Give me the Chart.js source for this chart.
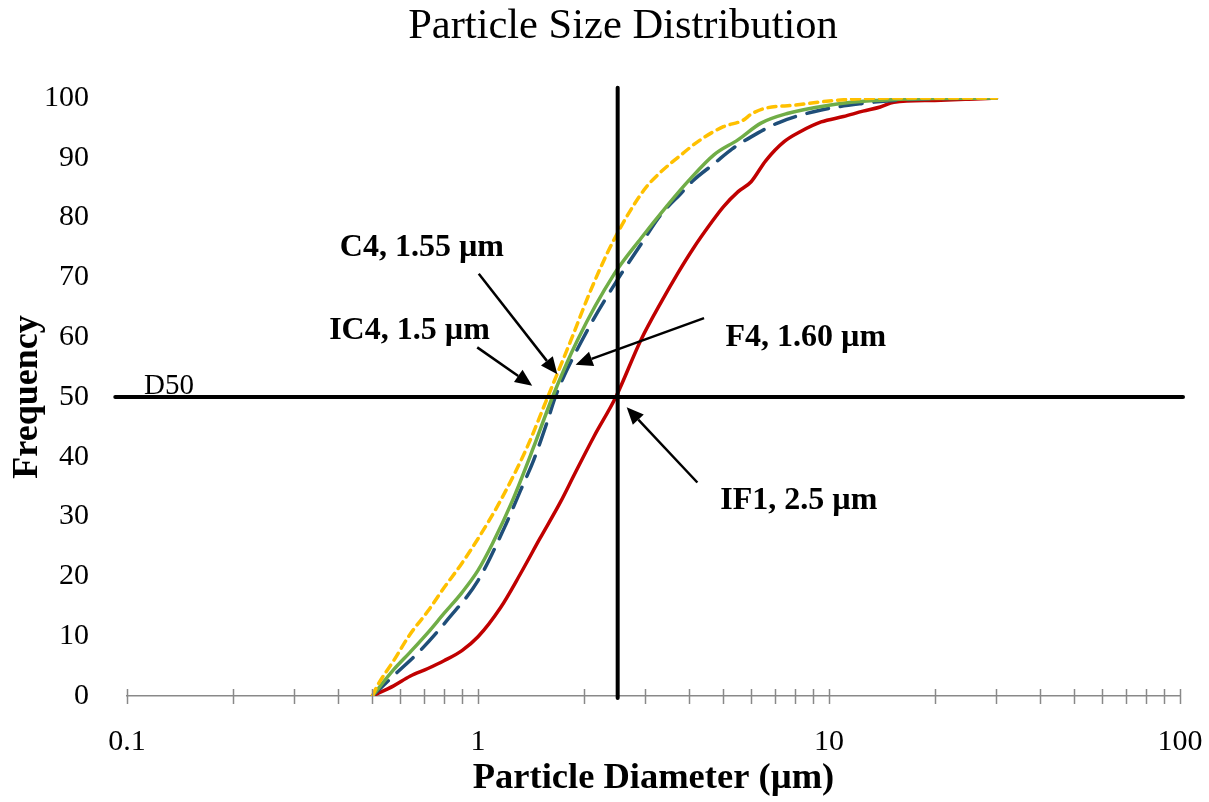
<!DOCTYPE html>
<html>
<head>
<meta charset="utf-8">
<script src="https://cdn.jsdelivr.net/npm/chart.js@4/dist/chart.umd.min.js"></script>
<style>
  html, body { margin: 0; padding: 0; background: #fff; }
  #psd { display: block; }
</style>
</head>
<body>
<canvas id="psd" width="1209" height="802"></canvas>
<script>
// values (particle diameter in µm, cumulative %)
const yellowX = [0.5, 0.52, 0.575, 0.64, 0.72, 0.8, 0.89, 1.0, 1.16, 1.38, 1.58, 1.84, 2.1, 2.44, 2.97, 3.3, 3.7, 4.3, 5.0, 5.7, 6.0, 6.6, 8.0, 10, 12.5, 16, 20, 30];
const yellowY = [0, 2, 5.9, 10.3, 14.2, 18.1, 21.8, 26.3, 32.7, 41.6, 50, 59.5, 68, 76.3, 84.6, 87.5, 90, 93, 95.2, 96.3, 97.3, 98.3, 98.8, 99.5, 99.9, 100, 100, 100];

const greenX = [0.5, 0.575, 0.64, 0.72, 0.8, 0.9, 1.0, 1.1, 1.25, 1.44, 1.63, 1.92, 2.44, 2.91, 3.46, 4.0, 4.7, 5.5, 6.4, 7.6, 10, 12.3, 15, 20, 30];
const greenY = [0, 4.4, 7.3, 10.6, 13.8, 17.3, 21, 25.5, 32.5, 41.6, 50, 59.5, 70.5, 76.5, 82, 86.3, 90.5, 93, 95.8, 97.4, 98.8, 99.4, 99.7, 99.9, 100];

const blueX = [0.5, 0.575, 0.69, 0.82, 1.0, 1.19, 1.32, 1.44, 1.58, 1.66, 2.0, 2.49, 2.91, 3.3, 3.78, 4.12, 4.7, 5.3, 6.0, 7.2, 9.5, 12.5, 15.3, 20, 30];
const blueY = [0, 3.4, 7.8, 12.8, 19.3, 28.2, 34.3, 39.4, 46.1, 50, 60, 69.5, 75.5, 80.3, 84, 86.3, 89, 91.5, 93.5, 95.9, 98, 99.1, 99.6, 99.9, 100];

const redX = [0.5, 0.575, 0.64, 0.72, 0.8, 0.9, 1.0, 1.16, 1.32, 1.5, 1.72, 1.88, 2.14, 2.47, 2.91, 3.35, 3.7, 4.1, 4.6, 5.0, 5.5, 6.0, 6.6, 7.45, 8.3, 9.5, 11.0, 12.5, 14, 15.3, 20, 25, 30];
const redY = [0, 1.7, 3.3, 4.6, 5.9, 7.6, 9.9, 14.8, 20.4, 26.3, 32.5, 37.0, 43.4, 50, 59.5, 66.2, 70.6, 74.8, 79, 81.8, 84.3, 86, 89.5, 92.7, 94.4, 96, 96.9, 97.8, 98.5, 99.3, 99.6, 99.8, 100];

// D50 cross lines
const d50LineX = [0.0926, 102];
const d50LineY = [50, 50];
const ifLineX = [2.5, 2.5];
const ifLineY = [-0.35, 101.7];

// axis ticks
const xDecades = [0.1, 1, 10, 100];
const xMinorSteps = [2, 3, 4, 5, 6, 7, 8, 9];

// annotations: label, text centre, arrow start, arrow tip (data coords)
const noteLabels = ['C4, 1.55 µm', 'IC4, 1.5 µm', 'F4, 1.60 µm', 'IF1, 2.5 µm'];
const noteTextX = [0.692, 0.638, 8.59, 8.2];
const noteTextY = [75.0, 61.1, 59.9, 32.7];
const arrowFromX = [1.005, 0.995, 4.405, 4.217];
const arrowFromY = [70.6, 58.3, 63.2, 35.7];
const arrowToX = [1.683, 1.427, 1.897, 2.652];
const arrowToY = [53.8, 51.9, 55.4, 48.3];

const chartTitle = 'Particle Size Distribution';
const serif = "'Liberation Serif', 'Times New Roman', serif";

const pts = (xs, ys) => xs.map((x, i) => ({ x: x, y: ys[i] }));

const xTickValues = [];
xDecades.forEach((d, i) => {
  xTickValues.push(d);
  if (i < xDecades.length - 1) xMinorSteps.forEach(m => xTickValues.push(+(d * m).toPrecision(3)));
});

// title, crossing tick marks on the x axis, arrows and text notes
const extrasPlugin = {
  id: 'extras',
  afterDatasetsDraw(chart) {
    const ctx = chart.ctx;
    const xs = chart.scales.x;
    const ys = chart.scales.y;

    ctx.save();
    ctx.fillStyle = '#000';
    ctx.font = '42.5px ' + serif;
    ctx.textAlign = 'center';
    ctx.textBaseline = 'middle';
    ctx.fillText(chartTitle, 623, 27);
    ctx.restore();

    ctx.save();
    ctx.strokeStyle = '#898989';
    ctx.lineWidth = 1.5;
    const axisY = ys.getPixelForValue(0);
    xs.ticks.forEach(t => {
      const px = Math.round(xs.getPixelForValue(t.value)) + 0.5;
      ctx.beginPath();
      ctx.moveTo(px, axisY - 7);
      ctx.lineTo(px, axisY + 8);
      ctx.stroke();
    });
    ctx.restore();

    ctx.save();
    ctx.strokeStyle = '#000';
    ctx.fillStyle = '#000';
    ctx.lineWidth = 2.5;
    noteLabels.forEach((lbl, i) => {
      const x0 = xs.getPixelForValue(arrowFromX[i]);
      const y0 = ys.getPixelForValue(arrowFromY[i]);
      const x1 = xs.getPixelForValue(arrowToX[i]);
      const y1 = ys.getPixelForValue(arrowToY[i]);
      const ang = Math.atan2(y1 - y0, x1 - x0);
      const len = 17, half = 7.5;
      const bx = x1 - len * Math.cos(ang);
      const by = y1 - len * Math.sin(ang);
      ctx.beginPath();
      ctx.moveTo(x0, y0);
      ctx.lineTo(bx, by);
      ctx.stroke();
      ctx.beginPath();
      ctx.moveTo(x1, y1);
      ctx.lineTo(bx + half * Math.sin(ang), by - half * Math.cos(ang));
      ctx.lineTo(bx - half * Math.sin(ang), by + half * Math.cos(ang));
      ctx.closePath();
      ctx.fill();

      ctx.font = 'bold 32px ' + serif;
      ctx.textAlign = 'center';
      ctx.textBaseline = 'middle';
      ctx.fillText(lbl, xs.getPixelForValue(noteTextX[i]), ys.getPixelForValue(noteTextY[i]));
    });

    ctx.font = '29px ' + serif;
    ctx.textAlign = 'left';
    ctx.textBaseline = 'alphabetic';
    ctx.fillText('D50', xs.getPixelForValue(0.1) + 17, ys.getPixelForValue(50) - 3);
    ctx.restore();
  }
};

const lineStyle = (color, width, dash) => ({
  borderColor: color,
  borderWidth: width,
  borderDash: dash,
  borderCapStyle: 'round',
  pointRadius: 0,
  fill: false,
  cubicInterpolationMode: 'monotone'
});

new Chart(document.getElementById('psd'), {
  type: 'line',
  data: {
    datasets: [
      Object.assign({ label: 'D50', data: pts(d50LineX, d50LineY), clip: false }, lineStyle('#000', 4, [])),
      Object.assign({ label: 'IF1 D50', data: pts(ifLineX, ifLineY), clip: false }, lineStyle('#000', 4, [])),
      Object.assign({ label: 'C4', data: pts(yellowX, yellowY) }, lineStyle('#FFC000', 3.5, [8, 6])),
      Object.assign({ label: 'IC4', data: pts(greenX, greenY) }, lineStyle('#70AD47', 3.5, [])),
      Object.assign({ label: 'F4', data: pts(blueX, blueY) }, lineStyle('#1F4E79', 3.5, [22, 12])),
      Object.assign({ label: 'IF1', data: pts(redX, redY) }, lineStyle('#C00000', 3.5, []))
    ]
  },
  options: {
    responsive: false,
    animation: false,
    layout: { padding: { top: 98, left: 0, right: 29, bottom: 0 } },
    plugins: {
      legend: { display: false },
      tooltip: { enabled: false },
      title: { display: false }
    },
    scales: {
      x: {
        type: 'logarithmic',
        min: 0.1,
        max: 100,
        afterBuildTicks: scale => {
          scale.ticks = xTickValues.map(v => ({ value: v }));
        },
        afterFit: scale => {
          scale.height = 106;
          scale.paddingLeft = 0;
          scale.paddingRight = 0;
        },
        grid: { display: false },
        border: { display: true, color: '#898989', width: 1.5 },
        ticks: {
          autoSkip: false,
          maxRotation: 0,
          padding: 20,
          color: '#000',
          font: { family: serif, size: 30 },
          callback: v => (xDecades.includes(v) ? String(v) : '')
        },
        title: {
          display: true,
          text: 'Particle Diameter (µm)',
          color: '#000',
          font: { family: serif, size: 36.5, weight: 'bold' },
          padding: { top: 0, bottom: 2 }
        }
      },
      y: {
        min: 0,
        max: 100,
        afterFit: scale => { scale.width = 127; },
        grid: { display: false },
        border: { display: false },
        ticks: {
          stepSize: 10,
          padding: 30,
          color: '#000',
          font: { family: serif, size: 30 }
        },
        title: {
          display: true,
          text: 'Frequency',
          color: '#000',
          font: { family: serif, size: 36, weight: 'bold' },
          padding: { top: 6, bottom: 0 }
        }
      }
    }
  },
  plugins: [extrasPlugin]
});
</script>
</body>
</html>
